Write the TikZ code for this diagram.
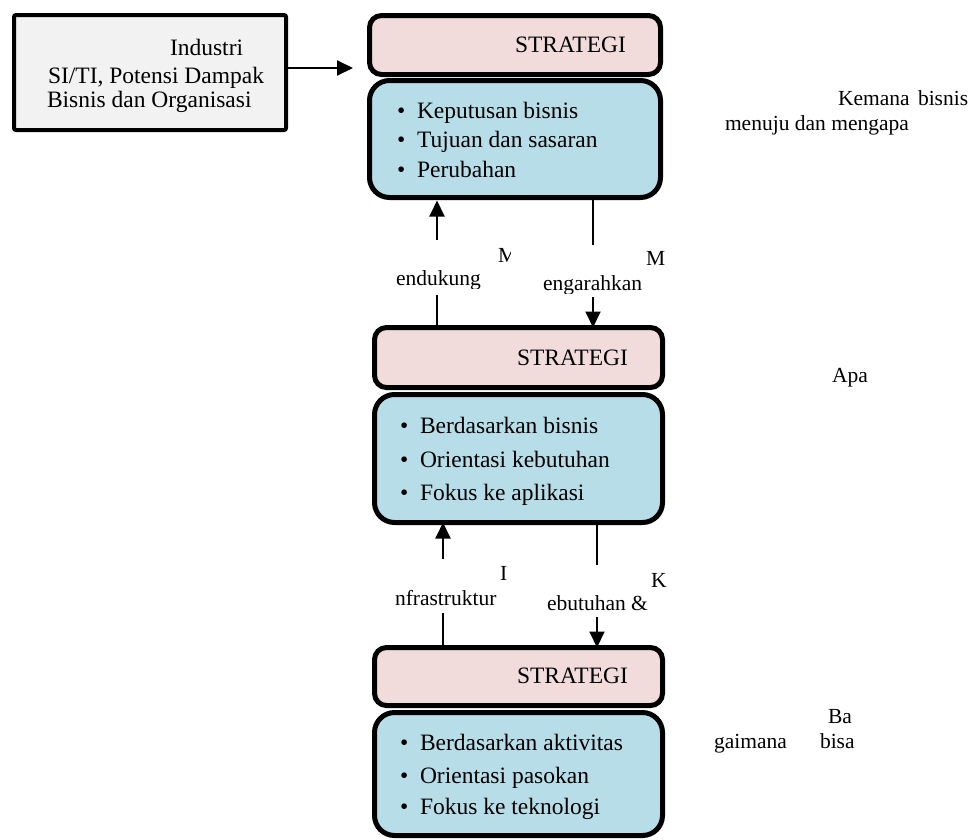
\documentclass[tikz,border=0pt]{standalone}
\usepackage{fontspec}
\setmainfont{Liberation Serif}
\usetikzlibrary{arrows.meta}
\definecolor{boxpink}{HTML}{F2DCDB}
\definecolor{boxblue}{HTML}{B7DDE8}
\definecolor{boxgray}{HTML}{F2F2F2}
\begin{document}
\begin{tikzpicture}[x=1pt,y=-1pt,
  panel/.style={draw=black, line width=5pt, inner sep=0pt, outer sep=0pt},
  headpanel/.style={panel, rounded corners=12pt, fill=boxpink},
  listpanel/.style={panel, rounded corners=20pt, fill=boxblue},
  sourcebox/.style={draw=black, line width=4pt, rounded corners=2pt, fill=boxgray, inner sep=0pt, outer sep=0pt},
  txt/.style={anchor=base west, inner sep=0pt, outer sep=0pt, font=\fontsize{23.5}{28}\selectfont},
  lbl/.style={anchor=base west, inner sep=0pt, outer sep=0pt, font=\fontsize{21.5}{26}\selectfont},
  conn/.style={draw=black, line width=2pt},
  tip/.style={-{Triangle[length=16pt,width=15pt]}}
]
\useasboundingbox (0,0) rectangle (972,839);

% source box on the left
\node[sourcebox, minimum width=272pt, minimum height=115pt] (src) at (150,72.5) {};
\node[txt] (srcA) at (170,55) {Industri};
\node[txt] (srcB) at (48,83) {SI/TI, Potensi Dampak};
\node[txt] (srcC) at (47,107) {Bisnis dan Organisasi};

% first strategy level
\node[headpanel, minimum width=291pt, minimum height=59pt] (h1) at (515,45) {};
\node[listpanel, minimum width=291pt, minimum height=117pt] (l1) at (515,139) {};
\node[txt] (h1t) at (515,52) {STRATEGI};
\node[txt] (d1a) at (397,118) {\textbullet};
\node[txt] (l1a) at (417,118) {Keputusan bisnis};
\node[txt] (d1b) at (397,147) {\textbullet};
\node[txt] (l1b) at (417,147) {Tujuan dan sasaran};
\node[txt] (d1c) at (397,177) {\textbullet};
\node[txt] (l1c) at (417,177) {Perubahan};

% second strategy level
\node[headpanel, minimum width=288pt, minimum height=60pt] (h2) at (518.5,357.5) {};
\node[listpanel, minimum width=288pt, minimum height=128pt] (l2) at (518.5,458.5) {};
\node[txt] (h2t) at (517,365) {STRATEGI};
\node[txt] (d2a) at (400,433) {\textbullet};
\node[txt] (l2a) at (420,433) {Berdasarkan bisnis};
\node[txt] (d2b) at (400,467) {\textbullet};
\node[txt] (l2b) at (420,467) {Orientasi kebutuhan};
\node[txt] (d2c) at (400,500) {\textbullet};
\node[txt] (l2c) at (420,500) {Fokus ke aplikasi};

% third strategy level
\node[headpanel, minimum width=288pt, minimum height=58pt] (h3) at (518.5,676.5) {};
\node[listpanel, minimum width=288pt, minimum height=123pt] (l3) at (518.5,774) {};
\node[txt] (h3t) at (517,683) {STRATEGI};
\node[txt] (d3a) at (400,750) {\textbullet};
\node[txt] (l3a) at (420,750) {Berdasarkan aktivitas};
\node[txt] (d3b) at (400,783) {\textbullet};
\node[txt] (l3b) at (420,783) {Orientasi pasokan};
\node[txt] (d3c) at (400,814) {\textbullet};
\node[txt] (l3c) at (420,814) {Fokus ke teknologi};

% input arrow from the source box
\coordinate (inTip) at (353,68);
\draw[conn, tip] (src.east |- inTip) -- (inTip);

% connectors between level 1 and level 2
\coordinate (up1a) at (437,240);
\coordinate (up1b) at (437,295);
\draw[conn, tip, shorten >=3pt] (up1a) -- (up1a |- l1.south);
\draw[conn] (up1b) -- (up1b |- h2.north);
\coordinate (dn1a) at (593,245);
\coordinate (dn1b) at (593,297);
\draw[conn] (dn1a |- l1.south) -- (dn1a);
\draw[conn, tip] (dn1b) -- (dn1b |- h2.north);

% connectors between level 2 and level 3
\coordinate (up2a) at (443,559);
\coordinate (up2b) at (443,613);
\draw[conn, tip] (up2a) -- (up2a |- l2.south);
\draw[conn] (up2b) -- (up2b |- h3.north);
\coordinate (dn2a) at (597,565);
\coordinate (dn2b) at (597,617);
\draw[conn] (dn2a |- l2.south) -- (dn2a);
\draw[conn, tip] (dn2b) -- (dn2b |- h3.north);

% connector labels (text frames clip their contents)
\begin{scope}
  \clip (490,240) rectangle (510,270);
  \node[lbl] (m1) at (498,262) {M};
\end{scope}
\begin{scope}
  \clip (380,260) rectangle (500,288);
  \node[lbl] (m1t) at (396,285) {endukung};
\end{scope}
\node[lbl] (m2) at (646,265) {M};
\begin{scope}
  \clip (530,270) rectangle (660,293);
  \node[lbl] (m2t) at (543,290) {engarahkan};
\end{scope}
\node[lbl] (i1) at (500,580) {I};
\node[lbl] (i1t) at (395,605) {nfrastruktur};
\node[lbl] (k1) at (651,587) {K};
\node[lbl] (k1t) at (547,610) {ebutuhan \&};

% descriptions on the right
\node[lbl] (r1a) at (838,105) {Kemana\hspace{3pt} bisnis};
\node[lbl] (r1b) at (725,130) {menuju dan mengapa};
\node[lbl] (r2) at (832,382) {Apa};
\node[lbl] (r3a) at (828,723) {Ba};
\node[lbl] (r3b) at (714,748) {gaimana};
\node[lbl] (r3c) at (820,748) {bisa};
\end{tikzpicture}
\end{document}
